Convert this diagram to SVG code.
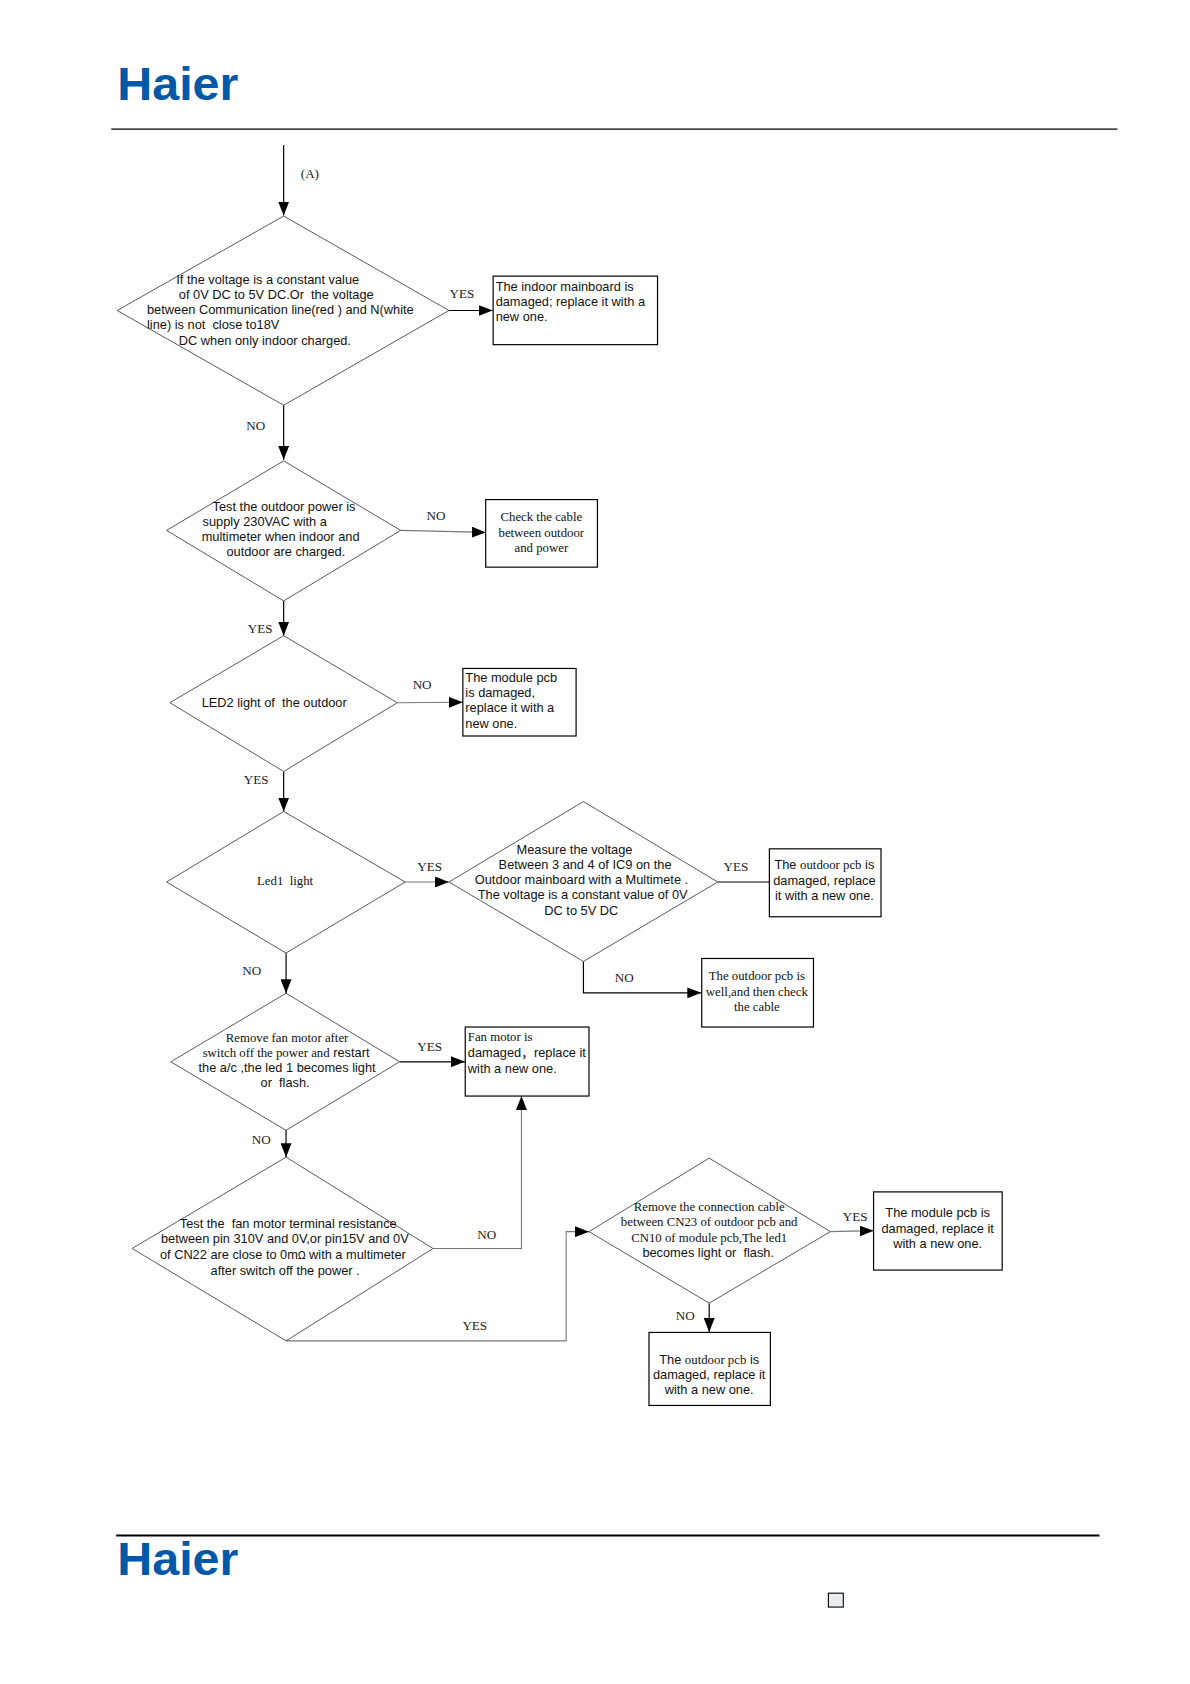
<svg xmlns="http://www.w3.org/2000/svg" width="1190" height="1684" viewBox="0 0 1190 1684">
<style>
text{fill:#111;font-family:"Liberation Sans",Arial,sans-serif;font-size:12.9px;white-space:pre}
.r,.r text{font-family:"Liberation Serif","Times New Roman",serif}
.l{font-family:"Liberation Serif","Times New Roman",serif;font-size:13.2px;fill:#222;text-anchor:middle}
.c{text-anchor:middle}
.d{fill:none;stroke:#444;stroke-width:.9}
.b{fill:#fff;stroke:#000;stroke-width:1.2}
.k{fill:none;stroke:#000;stroke-width:1.2}
.g{fill:none;stroke:#777;stroke-width:1.1}
.logo{font-family:"Liberation Sans",Arial,sans-serif;font-weight:700;font-size:47px;fill:#0058a8}
</style>
<defs><marker id="a" markerUnits="userSpaceOnUse" markerWidth="15" markerHeight="11" refX="14" refY="5.5" orient="auto"><path d="M0 0L14 5.5L0 11Z" fill="#000"/></marker></defs>
<rect width="1190" height="1684" fill="#fff"/>
<g transform="scale(.99325)">
<g id="header"><text class="logo" x="118" y="101" textLength="122" lengthAdjust="spacingAndGlyphs">Haier</text><line x1="112" y1="130" x2="1125" y2="130" stroke="#000" stroke-width="1.4"/></g>
<g id="connectors">
<path class="k" marker-end="url(#a)" d="M285.6 146V217"/>
<path class="k" marker-end="url(#a)" d="M452 312.6H496"/>
<path class="k" marker-end="url(#a)" d="M285.6 408V463"/>
<path class="g" marker-end="url(#a)" d="M403.5 534L489 536"/>
<path class="k" marker-end="url(#a)" d="M285.6 605V640"/>
<path class="g" marker-end="url(#a)" d="M400 707.5L466 707"/>
<path class="k" marker-end="url(#a)" d="M285.6 777V817"/>
<path class="g" marker-end="url(#a)" d="M408 888H452"/>
<path class="k" d="M722.6 888H775"/>
<path class="k" marker-end="url(#a)" d="M587.4 968V999.6H706"/>
<path class="k" marker-end="url(#a)" d="M288 959.5V1000"/>
<path class="k" marker-end="url(#a)" d="M402.4 1069H468"/>
<path class="k" marker-end="url(#a)" d="M288 1138V1165"/>
<path class="g" marker-end="url(#a)" d="M436 1257H525V1103.5"/>
<path class="g" marker-end="url(#a)" d="M288 1350H570V1240H593"/>
<path class="g" marker-end="url(#a)" d="M836 1240L879.5 1239"/>
<path class="k" marker-end="url(#a)" d="M714 1312V1341"/>
<text class="l" x="312" y="179">(A)</text>
<text class="l" x="465" y="300">YES</text>
<text class="l" x="257.5" y="433">NO</text>
<text class="l" x="439" y="524">NO</text>
<text class="l" x="262" y="637">YES</text>
<text class="l" x="425" y="694">NO</text>
<text class="l" x="258" y="789">YES</text>
<text class="l" x="432.5" y="877">YES</text>
<text class="l" x="741" y="877">YES</text>
<text class="l" x="628.5" y="989">NO</text>
<text class="l" x="253.5" y="982">NO</text>
<text class="l" x="432.5" y="1058">YES</text>
<text class="l" x="263" y="1152">NO</text>
<text class="l" x="490" y="1247">NO</text>
<text class="l" x="478" y="1339">YES</text>
<text class="l" x="861" y="1229">YES</text>
<text class="l" x="690" y="1329">NO</text>
</g>
<g id="d1"><path class="d" d="M285.6 217.5L452 312.6L285.6 408L118 312.6Z"/>
<text x="177.5" y="286">If the voltage is a constant value</text>
<text x="180" y="301">of 0V DC to 5V DC.Or  the voltage</text>
<text x="148" y="316">between Communication line(red ) and N(white</text>
<text x="148" y="331">line) is not  close to18V</text>
<text x="180" y="347">DC when only indoor charged.</text></g>
<g id="b1"><rect class="b" x="496.5" y="278" width="165.5" height="69"/>
<text x="499" y="293">The indoor mainboard is</text>
<text x="499" y="308">damaged; replace it with a</text>
<text x="499" y="323">new one.</text></g>
<g id="d2"><path class="d" d="M285.6 464L403.5 534L285.6 605L167.7 534Z"/>
<text x="214" y="514">Test the outdoor power is</text>
<text x="204" y="530">supply 230VAC with a</text>
<text x="203" y="545">multimeter when indoor and</text>
<text x="228" y="560">outdoor are charged.</text></g>
<g id="b2"><rect class="b" x="489" y="503" width="112.5" height="68"/>
<g class="r"><text class="c" x="545" y="525">Check the cable</text>
<text class="c" x="545" y="541">between outdoor</text>
<text class="c" x="545" y="556">and power</text></g></g>
<g id="d3"><path class="d" d="M285.6 640L400 707.5L285.6 776.7L171 707.5Z"/>
<text x="203" y="711.5">LED2 light of  the outdoor</text></g>
<g id="b3"><rect class="b" x="466" y="673" width="114" height="68"/>
<text x="468.5" y="687">The module pcb</text>
<text x="468.5" y="702">is damaged,</text>
<text x="468.5" y="717">replace it with a</text>
<text x="468.5" y="733">new one.</text></g>
<g id="d4"><path class="d" d="M285.6 817L408 888L288 959.5L167.7 888Z"/>
<text class="c r" x="287" y="891">Led1  light</text></g>
<g id="d5"><path class="d" d="M587.4 807L722.6 888L587.4 968L452 888Z"/>
<text x="520" y="860">Measure the voltage</text>
<text x="502" y="875">Between 3 and 4 of IC9 on the</text>
<text x="478" y="890">Outdoor mainboard with a Multimete .</text>
<text x="481" y="905">The voltage is a constant value of 0V</text>
<text x="548" y="921">DC to 5V DC</text></g>
<g id="b6"><rect class="b" x="774.6" y="854.6" width="112.4" height="68.4"/>
<text class="c" x="830" y="875">The <tspan font-family="Liberation Serif">outdoor pcb</tspan> is</text>
<text class="c" x="830" y="891">damaged, replace</text>
<text class="c" x="830" y="906">it with a new one.</text></g>
<g id="b7"><rect class="b" x="706.5" y="965" width="112.5" height="69"/>
<g class="r"><text class="c" x="762" y="987">The outdoor pcb is</text>
<text class="c" x="762" y="1003">well,and then check</text>
<text class="c" x="762" y="1018">the cable</text></g></g>
<g id="d6"><path class="d" d="M288 1000L402.4 1069L288 1138L172 1069Z"/>
<text class="c r" x="289" y="1049">Remove fan motor after</text>
<text class="c" x="288" y="1064"><tspan font-family="Liberation Serif">switch off the power and</tspan> restart</text>
<text class="c" x="289" y="1079">the a/c ,the led 1 becomes light</text>
<text class="c" x="287" y="1094">or  flash.</text></g>
<g id="b8"><rect class="b" x="468.4" y="1034" width="124.6" height="69.5"/>
<text class="r" x="471" y="1048">Fan motor is</text>
<text x="471" y="1064">damaged<tspan font-family="Noto Sans CJK SC">，</tspan>replace it</text>
<text x="471" y="1080">with a new one.</text></g>
<g id="d7"><path class="d" d="M288 1165L436 1257L288 1350L133 1257Z"/>
<text x="181" y="1236">Test the  fan motor terminal resistance</text>
<text x="162" y="1251">between pin 310V and 0V,or pin15V and 0V</text>
<text x="161" y="1268">of CN22 are close to 0m<tspan font-family="DejaVu Sans" font-size="10">Ω</tspan> with a multimeter</text>
<text x="212" y="1284">after switch off the power .</text></g>
<g id="d8"><path class="d" d="M714 1166L836 1240L714 1312L593 1240Z"/>
<g class="r"><text class="c" x="714" y="1219">Remove the connection cable</text>
<text class="c" x="714" y="1234">between CN23 of outdoor pcb and</text>
<text class="c" x="714" y="1250">CN10 of module pcb,The led1</text></g>
<text class="c" x="713" y="1266">becomes light or  flash.</text></g>
<g id="b9"><rect class="b" x="879.5" y="1200" width="129.5" height="78.7"/>
<text class="c" x="944" y="1225">The module pcb is</text>
<text class="c" x="944" y="1241">damaged, replace it</text>
<text class="c" x="944" y="1256">with a new one.</text></g>
<g id="b10"><rect class="b" x="653.4" y="1341.5" width="122.2" height="73.5"/>
<text class="c" x="714" y="1373">The <tspan font-family="Liberation Serif">outdoor pcb</tspan> is</text>
<text class="c" x="714" y="1388">damaged, replace it</text>
<text class="c" x="714" y="1403">with a new one.</text></g>
<g id="footer"><line x1="117" y1="1546" x2="1107" y2="1546" stroke="#000" stroke-width="2"/>
<text class="logo" x="118" y="1586" textLength="122" lengthAdjust="spacingAndGlyphs">Haier</text>
<rect x="834" y="1604" width="15" height="14" fill="#e8ebef" stroke="#000" stroke-width="1.1"/></g>
</g>
</svg>
